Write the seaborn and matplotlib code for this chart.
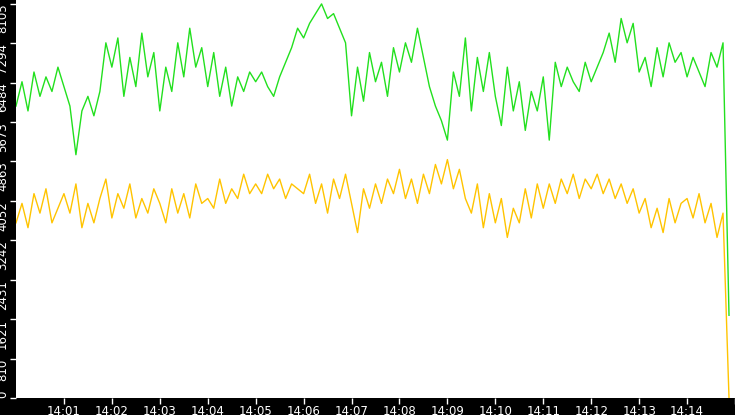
import numpy as np
import pandas as pd
import matplotlib
matplotlib.use("Agg")
import matplotlib.pyplot as plt
import seaborn as sns

# valori, 8 campioni per minuto (14:00 -> 14:15)
green_vals = [
    6000, 6500, 5900, 6700, 6200, 6600, 6300, 6800,
    6400, 6000, 5000, 5900, 6200, 5800, 6300, 7300,
    6800, 7400, 6200, 7000, 6400, 7500, 6600, 7100,
    5900, 6800, 6300, 7300, 6600, 7600, 6800, 7200,
    6400, 7100, 6200, 6800, 6000, 6600, 6300, 6700,
    6500, 6700, 6400, 6200, 6600, 6900, 7200, 7600,
    7400, 7700, 7900, 8100, 7800, 7900, 7600, 7300,
    5800, 6800, 6100, 7100, 6500, 6900, 6200, 7200,
    6700, 7300, 6900, 7600, 7000, 6400, 6000, 5700,
    5300, 6700, 6200, 7400, 5900, 7000, 6300, 7100,
    6200, 5600, 6800, 5900, 6500, 5500, 6300, 5900,
    6600, 5300, 6900, 6400, 6800, 6500, 6300, 6900,
    6500, 6800, 7100, 7500, 6900, 7800, 7300, 7700,
    6700, 7000, 6400, 7200, 6600, 7300, 6900, 7100,
    6600, 7000, 6700, 6400, 7100, 6800, 7300, 1700,
]
yellow_vals = [
    3600, 4000, 3500, 4200, 3800, 4300, 3600, 3900,
    4200, 3800, 4400, 3500, 4000, 3600, 4100, 4500,
    3700, 4200, 3900, 4400, 3700, 4100, 3800, 4300,
    4000, 3600, 4300, 3800, 4200, 3700, 4400, 4000,
    4100, 3900, 4500, 4000, 4300, 4100, 4600, 4200,
    4400, 4200, 4600, 4300, 4500, 4100, 4400, 4300,
    4200, 4600, 4000, 4400, 3800, 4500, 4100, 4600,
    4000, 3400, 4300, 3900, 4400, 4000, 4500, 4200,
    4700, 4100, 4500, 4000, 4600, 4200, 4800, 4400,
    4900, 4300, 4700, 4100, 3800, 4400, 3500, 4200,
    3600, 4100, 3300, 3900, 3600, 4300, 3700, 4400,
    3900, 4400, 4000, 4500, 4200, 4600, 4100, 4500,
    4300, 4600, 4200, 4500, 4100, 4400, 4000, 4300,
    3800, 4100, 3500, 3900, 3400, 4100, 3600, 4000,
    4100, 3700, 4200, 3600, 4000, 3300, 3800, 0,
]
y_ticks = [0, 810, 1621, 2431, 3242, 4052, 4863, 5673, 6484, 7294, 8105]
x_labels = ["14:01", "14:02", "14:03", "14:04", "14:05", "14:06", "14:07", "14:08",
            "14:09", "14:10", "14:11", "14:12", "14:13", "14:14", "14"]

minutes = np.arange(len(green_vals)) / 8.0
df = pd.DataFrame({"t": minutes, "green": green_vals, "yellow": yellow_vals})

fig = plt.figure(figsize=(7.35, 4.15), dpi=100, facecolor="black")
ax = fig.add_axes([16 / 735, 17 / 415, 719 / 735, 398 / 415])
ax.set_facecolor("white")

sns.lineplot(data=df, x="t", y="green", ax=ax, color="#22e01e", linewidth=1.0)
sns.lineplot(data=df, x="t", y="yellow", ax=ax, color="#ffc400", linewidth=1.0)

ax.set_xlim(0, 15)
ax.set_ylim(0, 8180)
ax.set_xticks(range(1, 16))
ax.set_xticklabels(x_labels)
ax.get_xticklabels()[-1].set_horizontalalignment("left")
ax.set_yticks(y_ticks)
ax.set_yticklabels([str(v) for v in y_ticks], rotation=90, va="top")
ax.get_yticklabels()[0].set_verticalalignment("bottom")
ax.tick_params(colors="white", labelsize=8.5, length=4, width=1, pad=1)
ax.set_xlabel("")
ax.set_ylabel("")
for s in ax.spines.values():
    s.set_visible(False)

fig.savefig("out.png", dpi=100, facecolor="black")
